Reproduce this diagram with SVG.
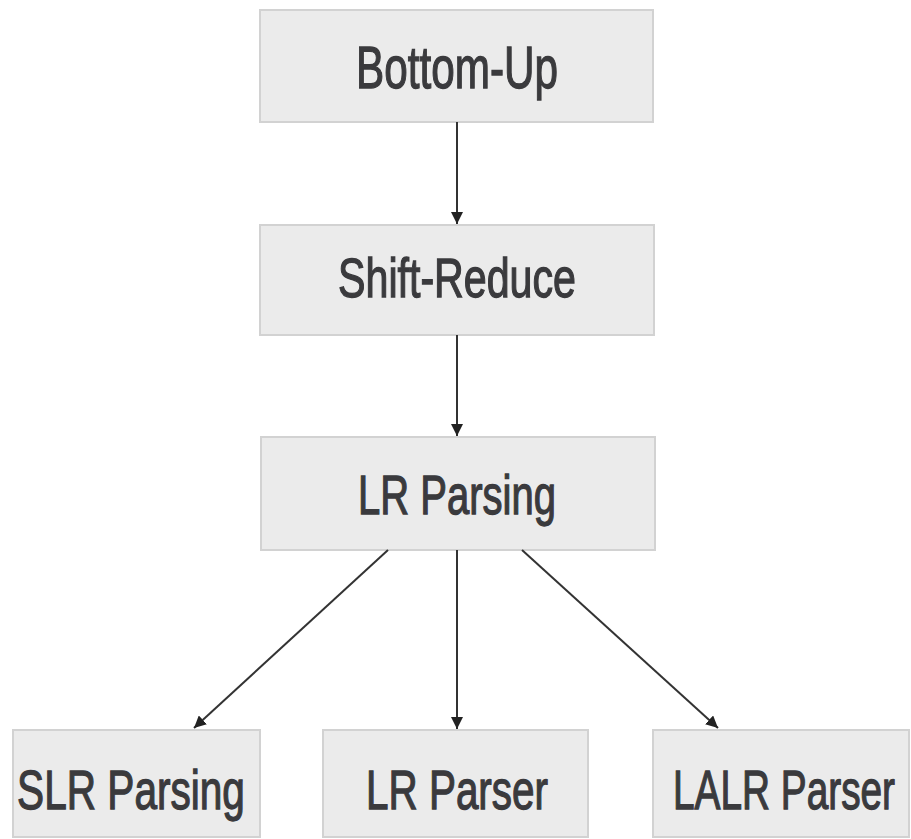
<svg xmlns="http://www.w3.org/2000/svg" width="911" height="839" viewBox="0 0 911 839">
<style>
.box{fill:#ebebeb;stroke:#d2d2d2;stroke-width:2}
.lbl{font-family:"Liberation Sans",Arial,sans-serif;font-size:56px;fill:#3a3a3d;stroke:#3a3a3d;stroke-width:1.3;text-anchor:middle}
.edge{stroke:#333;stroke-width:2;fill:none;marker-end:url(#ah)}
</style>
<defs>
<marker id="ah" viewBox="0 0 10 10" refX="10" refY="5" markerWidth="6" markerHeight="6" orient="auto" markerUnits="strokeWidth">
<path d="M0,0 L10,5 L0,10 z" fill="#222"/>
</marker>
</defs>
<rect width="911" height="839" fill="#fff"/>
<g id="bottom-up">
<rect class="box" x="260" y="10" width="393" height="112"/>
<text class="lbl" transform="translate(457,88) scale(0.705,1)" style="font-size:60px">Bottom-Up</text>
</g>
<g id="shift-reduce">
<rect class="box" x="260" y="225" width="394" height="110"/>
<text class="lbl" transform="translate(457,297) scale(0.735,1)">Shift-Reduce</text>
</g>
<g id="lr-parsing">
<rect class="box" x="261" y="437" width="394" height="113"/>
<text class="lbl" transform="translate(457,514) scale(0.715,1)">LR Parsing</text>
</g>
<g id="slr-parsing">
<rect class="box" x="13" y="730" width="247" height="107"/>
<text class="lbl" transform="translate(131,809) scale(0.725,1)">SLR Parsing</text>
</g>
<g id="lr-parser">
<rect class="box" x="323" y="730" width="265" height="107"/>
<text class="lbl" transform="translate(457,809) scale(0.722,1)">LR Parser</text>
</g>
<g id="lalr-parser">
<rect class="box" x="653" y="730" width="256" height="107"/>
<text class="lbl" transform="translate(784,809) scale(0.693,1)">LALR Parser</text>
</g>
<g id="connectors">
<line class="edge" x1="457" y1="122" x2="457" y2="224"/>
<line class="edge" x1="457" y1="335" x2="457" y2="436"/>
<line class="edge" x1="388" y1="550" x2="194" y2="728"/>
<line class="edge" x1="457" y1="550" x2="457" y2="729"/>
<line class="edge" x1="522" y1="550" x2="718" y2="728"/>
</g>
</svg>
